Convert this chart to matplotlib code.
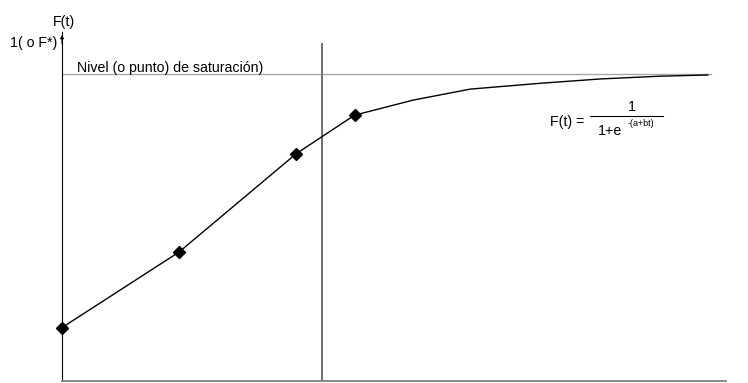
import matplotlib.pyplot as plt

plt.rcParams['font.family'] = ['Liberation Sans', 'DejaVu Sans']

# observed points (diamond markers)
t_obs = [0.0, 1.0, 2.0, 2.5]
f_obs = [0.174, 0.42, 0.74, 0.866]

# fitted curve continuing toward saturation
t_fit = [2.5, 3.0, 3.49, 4.09, 4.6, 5.11, 5.52]
f_fit = [0.866, 0.915, 0.951, 0.97, 0.984, 0.993, 0.997]

saturation = 1.0
t_cut = 2.22

fig = plt.figure(figsize=(7.48, 3.83), dpi=100)
ax = fig.add_axes([62 / 748, 2 / 383, 664 / 748, 349 / 383])
ax.set_xlim(0, 5.675)
ax.set_ylim(0, 1.137)

ax.spines['top'].set_visible(False)
ax.spines['right'].set_visible(False)
ax.spines['left'].set_color('black')
ax.spines['bottom'].set_color('#808080')
ax.spines['bottom'].set_linewidth(1.3)
ax.set_xticks([])
ax.set_yticks([])
ax.patch.set_alpha(0)

# arrow tip on y axis
ax.annotate('', xy=(0, 1.137), xytext=(0, 1.09),
            arrowprops=dict(arrowstyle='-|>', color='black', lw=0.8,
                            mutation_scale=5),
            annotation_clip=False)

ax.plot([0, 5.55], [saturation, saturation], color='#a8a8a8', lw=1)
ax.plot([t_cut, t_cut], [0, 1.097], color='#6e6e6e', lw=1.4)

ax.plot(t_obs, f_obs, color='black', lw=1, marker='D', markersize=6,
        clip_on=False, zorder=3)
ax.plot(t_fit, f_fit, color='black', lw=1, zorder=3)

fs = 10.2
fig.text(64 / 748, 1 - 22 / 383, 'F(t)', ha='center', va='center', fontsize=fs)
fig.text(10 / 748, 1 - 43 / 383, '1( o F*)', ha='left', va='center', fontsize=fs)
fig.text(77 / 748, 1 - 68 / 383, 'Nivel (o punto) de saturación)',
         ha='left', va='center', fontsize=fs)

# formula
fig.text(550 / 748, 1 - 122 / 383, 'F(t) =', ha='left', va='center', fontsize=fs)
fig.add_artist(plt.Line2D([590 / 748, 663 / 748], [1 - 116 / 383, 1 - 116 / 383],
                          color='black', lw=0.8))
fig.text(632 / 748, 1 - 107 / 383, '1', ha='center', va='center', fontsize=fs)
fig.text(598 / 748, 1 - 131 / 383, '1+e', ha='left', va='center', fontsize=fs)
fig.text(628 / 748, 1 - 123 / 383, '-(a+bt)', ha='left', va='center', fontsize=6.5)

fig.savefig('out.png', dpi=100)
